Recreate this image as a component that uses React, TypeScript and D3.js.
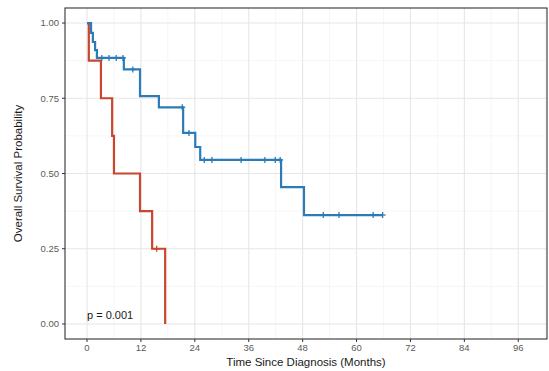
import React from "react";
import * as d3 from "d3";

// ---- data ----
const xTicks = [0, 12, 24, 36, 48, 60, 72, 84, 96];
const yTicks = [0, 0.25, 0.5, 0.75, 1.0];
const yTickLabels = ["0.00", "0.25", "0.50", "0.75", "1.00"];

const blueTimes = [0, 0.9, 1.3, 1.8, 2.2, 8.2, 11.8, 16.0, 21.4, 24.1, 25.2, 43.2, 48.3];
const blueSurv = [1, 0.967, 0.937, 0.91, 0.884, 0.846, 0.757, 0.72, 0.635, 0.588, 0.545, 0.455, 0.362];
const blueEnd = 65.8;
const blueCensor = [3.3, 4.9, 6.5, 8.0, 10.2, 21.2, 22.7, 26.1, 27.8, 34.3, 39.6, 41.9, 43.0, 52.6, 56.1, 63.7, 65.8];

const redTimes = [0, 0.4, 3.1, 5.6, 6.0, 11.8, 14.5, 17.4];
const redSurv = [1, 0.875, 0.75, 0.625, 0.5, 0.375, 0.25, 0];
const redEnd = 17.4;
const redCensor = [15.5];

const pText = "p = 0.001";
const xTitle = "Time Since Diagnosis (Months)";
const yTitle = "Overall Survival Probability";

const W = 549;
const H = 371;
const PL = 65, PR = 547, PT = 8, PB = 339;

const RED = "#C9452C";
const BLUE = "#2B7BB8";
const FONT = "'Liberation Sans', Arial, Helvetica, sans-serif";

function survAt(times: number[], surv: number[], t: number) {
  let s = surv[0];
  for (let i = 0; i < times.length; i++) if (times[i] <= t) s = surv[i];
  return s;
}

export default function App() {
  const x = d3.scaleLinear().domain([-4.9, 102.4]).range([PL, PR]);
  const y = d3.scaleLinear().domain([-0.05, 1.05]).range([PB, PT]);

  const line = d3
    .line<[number, number]>()
    .x((d) => x(d[0]))
    .y((d) => y(d[1]))
    .curve(d3.curveStepAfter);

  const bluePts: [number, number][] = blueTimes.map((t, i) => [t, blueSurv[i]]);
  bluePts.push([blueEnd, blueSurv[blueSurv.length - 1]]);
  const redPts: [number, number][] = redTimes.map((t, i) => [t, redSurv[i]]);
  redPts.push([redEnd, redSurv[redSurv.length - 1]]);

  const xMinor = [6, 18, 30, 42, 54, 66, 78, 90, 102];
  const yMinor = [0.125, 0.375, 0.625, 0.875];

  const cross = (cx: number, cy: number, color: string, key: string) => (
    <g key={key} stroke={color} strokeWidth={1.3}>
      <line x1={cx - 3} x2={cx + 3} y1={cy} y2={cy} />
      <line x1={cx} x2={cx} y1={cy - 3} y2={cy + 3} />
    </g>
  );

  return (
    <svg
      width={W}
      height={H}
      style={{ position: "absolute", left: 0, top: 0, background: "#fff" }}
      fontFamily={FONT}
    >
      <rect x={0} y={0} width={W} height={H} fill="#fff" />
      {/* minor grid */}
      {xMinor.map((v) => (
        <line key={"xm" + v} x1={x(v)} x2={x(v)} y1={PT} y2={PB} stroke="#F2F2F2" strokeWidth={0.7} />
      ))}
      {yMinor.map((v) => (
        <line key={"ym" + v} x1={PL} x2={PR} y1={y(v)} y2={y(v)} stroke="#F2F2F2" strokeWidth={0.7} />
      ))}
      {/* major grid */}
      {xTicks.map((v) => (
        <line key={"xg" + v} x1={x(v)} x2={x(v)} y1={PT} y2={PB} stroke="#E6E6E6" strokeWidth={1.1} />
      ))}
      {yTicks.map((v) => (
        <line key={"yg" + v} x1={PL} x2={PR} y1={y(v)} y2={y(v)} stroke="#E6E6E6" strokeWidth={1.1} />
      ))}

      {/* curves */}
      <path d={line(redPts) || ""} fill="none" stroke={RED} strokeWidth={2.2} />
      {redCensor.map((t, i) => cross(x(t), y(survAt(redTimes, redSurv, t)), RED, "rc" + i))}
      <path d={line(bluePts) || ""} fill="none" stroke={BLUE} strokeWidth={2.2} />
      {blueCensor.map((t, i) => cross(x(t), y(survAt(blueTimes, blueSurv, t)), BLUE, "bc" + i))}

      {/* p value */}
      <text x={x(0)} y={y(0.03) + 4} fontSize={11} fill="#1a1a1a">
        {pText}
      </text>

      {/* panel border */}
      <rect x={PL} y={PT} width={PR - PL} height={PB - PT} fill="none" stroke="#333" strokeWidth={1.1} />

      {/* x axis */}
      {xTicks.map((v) => (
        <g key={"xt" + v}>
          <line x1={x(v)} x2={x(v)} y1={PB} y2={PB + 3} stroke="#333" strokeWidth={1} />
          <text x={x(v)} y={PB + 12} fontSize={9.5} fill="#5a5a5a" textAnchor="middle">
            {v}
          </text>
        </g>
      ))}
      {/* y axis */}
      {yTicks.map((v, i) => (
        <g key={"yt" + v}>
          <line x1={PL - 3} x2={PL} y1={y(v)} y2={y(v)} stroke="#333" strokeWidth={1} />
          <text x={PL - 6} y={y(v) + 3.4} fontSize={9.5} fill="#5a5a5a" textAnchor="end">
            {yTickLabels[i]}
          </text>
        </g>
      ))}

      <text x={(PL + PR) / 2} y={366} fontSize={11.5} fill="#1a1a1a" textAnchor="middle">
        {xTitle}
      </text>
      <text
        transform={`translate(22, ${(PT + PB) / 2}) rotate(-90)`}
        fontSize={11.5}
        fill="#1a1a1a"
        textAnchor="middle"
      >
        {yTitle}
      </text>
    </svg>
  );
}
